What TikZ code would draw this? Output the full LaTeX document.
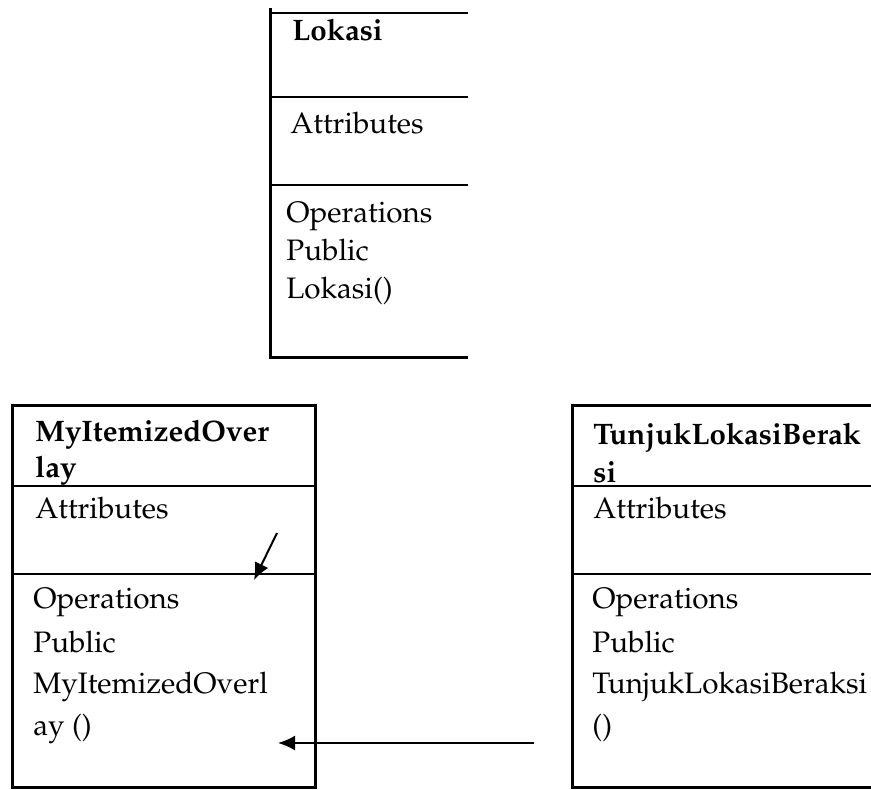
\documentclass[tikz,border=0pt]{standalone}
\usepackage[T1]{fontenc}
\usepackage{mathpazo}
\usetikzlibrary{arrows.meta}
\begin{document}
\begin{tikzpicture}[x=0.5pt,y=-0.5pt,
  frame/.style={line width=1.5pt},
  rule/.style={line width=1.3pt},
  txt/.style={anchor=base west, inner sep=0pt, font=\fontsize{14.8}{18}\selectfont},
  head/.style={txt, font=\fontsize{14.8}{18}\selectfont\bfseries},
  link/.style={line width=1pt, -{Latex[length=8.5pt,width=7.5pt]}}]
\useasboundingbox (0,0) rectangle (871,789);

% class Lokasi
\draw[frame] (270,8) -- (270,357) -- (468,357);
\draw[rule] (270,13) -- (468,13);
\draw[rule] (270,97) -- (468,97);
\draw[rule] (270,185) -- (468,185);
\node[head] (lokName) at (292,40) {Lokasi};
\node[txt] (lokAttr) at (290,133) {Attributes};
\node[txt] (lokOps) at (286,222) {Operations};
\node[txt] (lokPub) at (286,260) {Public};
\node[txt] (lokFn) at (286,298) {Lokasi()};

% class MyItemizedOverlay
\draw[frame] (12,405) rectangle (315,787);
\draw[rule] (12,486) -- (315,486);
\draw[rule] (12,574) -- (315,574);
\node[head] (mioName1) at (35,441) {MyItemizedOver};
\node[head] (mioName2) at (35,477) {lay};
\node[txt] (mioAttr) at (35,518) {Attributes};
\node[txt] (mioOps) at (33,608) {Operations};
\node[txt] (mioPub) at (33,652) {Public};
\node[txt] (mioFn1) at (33,693) {MyItemizedOverl};
\node[txt] (mioFn2) at (33,735) {ay ()};

% class TunjukLokasiBeraksi
\draw[frame] (871,405) -- (572,405) -- (572,787) -- (871,787);
\draw[rule] (572,486) -- (871,486);
\draw[rule] (572,574) -- (871,574);
\node[head] (tlbName1) at (593,444) {TunjukLokasiBerak};
\node[head] (tlbName2) at (593,482) {si};
\node[txt] (tlbAttr) at (593,518) {Attributes};
\node[txt] (tlbOps) at (592,608) {Operations};
\node[txt] (tlbPub) at (592,652) {Public};
\node[txt] (tlbFn1) at (592,693) {TunjukLokasiBeraksi};
\node[txt] (tlbFn2) at (592,735) {()};

% connectors
\coordinate (a1s) at (277,533);
\coordinate (a1e) at (254,580);
\coordinate (a2s) at (534,743);
\coordinate (a2e) at (278,743);
\draw[link] (a1s) -- (a1e);
\draw[link] (a2s) -- (a2e);
\end{tikzpicture}
\end{document}
